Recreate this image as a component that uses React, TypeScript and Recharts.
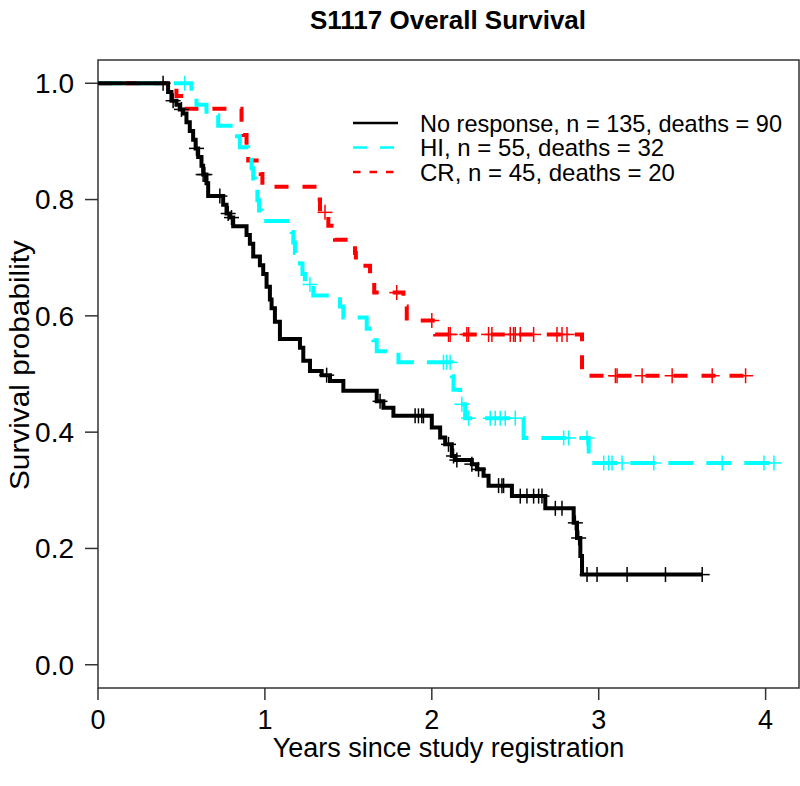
import React from 'react';
import { LineChart, Line, XAxis, YAxis, ReferenceArea, Legend } from 'recharts';

const FONT = '"Liberation Sans", Arial, Helvetica, sans-serif';

const xTicks = [0, 1, 2, 3, 4];
const yTicks = [0, 0.2, 0.4, 0.6, 0.8, 1.0];

const seriesNames = [
  'No response, n = 135, deaths = 90',
  'HI, n = 55, deaths = 32',
  'CR, n = 45, deaths = 20',
];
const seriesColors = ['#000000', '#00FFFF', '#FF0000'];

// No response: step times and survival after each step
const noRespT = [0, 0.42, 0.44, 0.47, 0.49, 0.51, 0.53, 0.55, 0.57, 0.585, 0.6, 0.62, 0.63, 0.65, 0.66, 0.75, 0.77, 0.79, 0.81, 0.89, 0.91, 0.93, 0.97, 0.99, 1.01, 1.03, 1.04, 1.06, 1.09, 1.21, 1.23, 1.27, 1.34, 1.39, 1.47, 1.67, 1.71, 1.77, 2.0, 2.05, 2.08, 2.12, 2.14, 2.24, 2.27, 2.31, 2.34, 2.48, 2.68, 2.85, 2.87, 2.89, 2.9];
const noRespS = [1, 0.985, 0.97, 0.963, 0.955, 0.948, 0.933, 0.918, 0.903, 0.888, 0.873, 0.858, 0.843, 0.828, 0.806, 0.791, 0.776, 0.769, 0.754, 0.739, 0.724, 0.702, 0.687, 0.672, 0.65, 0.628, 0.613, 0.59, 0.56, 0.545, 0.523, 0.505, 0.498, 0.488, 0.471, 0.453, 0.442, 0.428, 0.408, 0.391, 0.379, 0.359, 0.352, 0.345, 0.336, 0.325, 0.308, 0.29, 0.269, 0.244, 0.218, 0.187, 0.155];
const noRespCensor = [0.39, 0.45, 0.5, 0.59, 0.63, 0.64, 0.73, 0.78, 0.8, 1.37, 1.69, 1.9, 1.92, 1.94, 1.95, 2.1, 2.13, 2.15, 2.24, 2.28, 2.4, 2.42, 2.43, 2.53, 2.57, 2.61, 2.64, 2.66, 2.74, 2.78, 2.86, 2.88, 2.93, 2.99, 3.17, 3.4, 3.62];

// HI
const hiT = [0, 0.56, 0.59, 0.65, 0.72, 0.82, 0.85, 0.9, 0.92, 0.93, 0.94, 0.955, 0.965, 0.98, 1.16, 1.17, 1.18, 1.21, 1.225, 1.24, 1.29, 1.45, 1.47, 1.61, 1.65, 1.67, 1.8, 2.12, 2.13, 2.17, 2.2, 2.55, 2.94];
const hiS = [1, 0.982, 0.963, 0.945, 0.927, 0.909, 0.89, 0.872, 0.854, 0.836, 0.818, 0.799, 0.781, 0.763, 0.744, 0.726, 0.708, 0.69, 0.672, 0.654, 0.635, 0.616, 0.597, 0.578, 0.558, 0.539, 0.52, 0.496, 0.473, 0.448, 0.424, 0.39, 0.347];
const hiCensor = [0.52, 1.27, 2.07, 2.09, 2.11, 2.18, 2.22, 2.35, 2.38, 2.41, 2.44, 2.5, 2.79, 2.82, 2.93, 3.03, 3.06, 3.08, 3.14, 3.33, 3.74, 3.99, 4.05];

// CR
const crT = [0, 0.47, 0.52, 0.86, 0.87, 0.89, 0.9, 0.975, 0.985, 1.31, 1.33, 1.38, 1.42, 1.54, 1.545, 1.63, 1.655, 1.83, 1.85, 2.02, 2.9];
const crS = [1, 0.978, 0.956, 0.933, 0.911, 0.889, 0.867, 0.844, 0.822, 0.8, 0.778, 0.755, 0.731, 0.708, 0.686, 0.663, 0.64, 0.616, 0.592, 0.568, 0.497];
const crCensor = [1.36, 1.79, 2.0, 2.1, 2.11, 2.21, 2.22, 2.34, 2.36, 2.47, 2.49, 2.5, 2.53, 2.61, 2.75, 2.78, 2.81, 3.1, 3.11, 3.26, 3.44, 3.68, 3.88];

type Pt = { t: number; s: number; c: boolean };

function buildCurve(stepT: number[], stepS: number[], censorT: number[]): Pt[] {
  const pts: Pt[] = stepT.map((t, i) => ({ t, s: stepS[i], c: false }));
  censorT.forEach((ct) => {
    let s = stepS[0];
    for (let i = 0; i < stepT.length; i++) if (stepT[i] <= ct) s = stepS[i];
    pts.push({ t: ct, s, c: true });
  });
  pts.sort((a, b) => a.t - b.t || Number(a.c) - Number(b.c));
  return pts;
}

const noRespData = buildCurve(noRespT, noRespS, noRespCensor);
const hiData = buildCurve(hiT, hiS, hiCensor);
const crData = buildCurve(crT, crS, crCensor);

const censorDot = (color: string) => (props: any) => {
  const { cx, cy, payload, index } = props;
  if (!payload || !payload.c || cx == null || cy == null) return <g key={`e${index}`} />;
  const h = 7.5;
  return (
    <g key={`c${index}`}>
      <line x1={cx - h} y1={cy} x2={cx + h} y2={cy} stroke={color} strokeWidth={1.5} />
      <line x1={cx} y1={cy - h} x2={cx} y2={cy + h} stroke={color} strokeWidth={1.5} />
    </g>
  );
};

const legendDash = ['', '14 13', '7.5 9'];

const LegendBox = () => (
  <svg width={450} height={80} style={{ display: 'block', overflow: 'visible' }}>
    {seriesNames.map((name, i) => {
      const y = 15 + i * 24.5;
      return (
        <g key={name}>
          <line x1={3} x2={48} y1={y} y2={y} stroke={seriesColors[i]} strokeWidth={2.5} strokeDasharray={legendDash[i] || undefined} />
          <text x={70} y={y + 8.5} fontSize={24} fontFamily={FONT} fill="#000" textLength={name.length > 30 ? 362 : undefined} lengthAdjust="spacingAndGlyphs">{name}</text>
        </g>
      );
    })}
  </svg>
);

const YTitle = (props: any) => {
  const vb = props.viewBox || { x: 0, y: 60, width: 98, height: 628 };
  const cx = 20;
  const cy = vb.y + vb.height / 2 - 9;
  return (
    <text
      x={cx}
      y={cy}
      transform={`rotate(-90, ${cx}, ${cy})`}
      textAnchor="middle"
      dominantBaseline="central"
      fontSize={27}
      fontFamily={FONT}
      fill="#000"
      textLength={250}
      lengthAdjust="spacingAndGlyphs"
    >
      Survival probability
    </text>
  );
};

export default function App() {
  return (
    <div style={{ position: 'absolute', left: 0, top: 0, width: 800, height: 786, background: '#fff' }}>
      <svg width={800} height={60} style={{ position: 'absolute', left: 0, top: 0 }}>
        <text x={448} y={29} textAnchor="middle" fontSize={26} fontWeight="bold" fontFamily={FONT} fill="#000">
          S1117 Overall Survival
        </text>
      </svg>
      <LineChart width={800} height={786} margin={{ top: 60, right: 1, bottom: 0, left: 0 }}>
        <XAxis
          dataKey="t"
          type="number"
          domain={[0, 4.2]}
          ticks={xTicks}
          allowDataOverflow
          interval={0}
          axisLine={false}
          tickSize={12}
          tickMargin={10}
          tickLine={{ stroke: '#333', strokeWidth: 1.5 }}
          tick={{ fontSize: 27, fill: '#000', fontFamily: FONT }}
          height={98}
          label={{ value: 'Years since study registration', position: 'insideTop', offset: 50, fontSize: 27, fill: '#000', fontFamily: FONT }}
        />
        <YAxis
          type="number"
          domain={[-0.04, 1.04]}
          ticks={yTicks}
          allowDataOverflow
          interval={0}
          width={98}
          axisLine={false}
          tickSize={13}
          tickMargin={11}
          tickLine={{ stroke: '#333', strokeWidth: 1.5 }}
          tick={{ fontSize: 28, fill: '#000', fontFamily: FONT }}
          tickFormatter={(v: number) => v.toFixed(1)}
          label={{ content: (p: any) => <YTitle {...p} /> }}
        />
        <ReferenceArea x1={0} x2={4.2} y1={-0.04} y2={1.04} fill="none" stroke="#333" strokeWidth={1.5} ifOverflow="visible" />
        <Legend
          layout="vertical"
          align="center"
          verticalAlign="middle"
          content={() => <LegendBox />}
          wrapperStyle={{ left: 350, top: 108, width: 450, height: 80 }}
        />
        <Line data={crData} dataKey="s" type="stepAfter" stroke="#FF0000" strokeWidth={4} strokeDasharray="14 14" dot={censorDot('#FF0000')} activeDot={false} isAnimationActive={false} legendType="none" />
        <Line data={hiData} dataKey="s" type="stepAfter" stroke="#00FFFF" strokeWidth={4} strokeDasharray="25 13" dot={censorDot('#00FFFF')} activeDot={false} isAnimationActive={false} legendType="none" />
        <Line data={noRespData} dataKey="s" type="stepAfter" stroke="#000000" strokeWidth={4} dot={censorDot('#000000')} activeDot={false} isAnimationActive={false} legendType="none" />
      </LineChart>
    </div>
  );
}
